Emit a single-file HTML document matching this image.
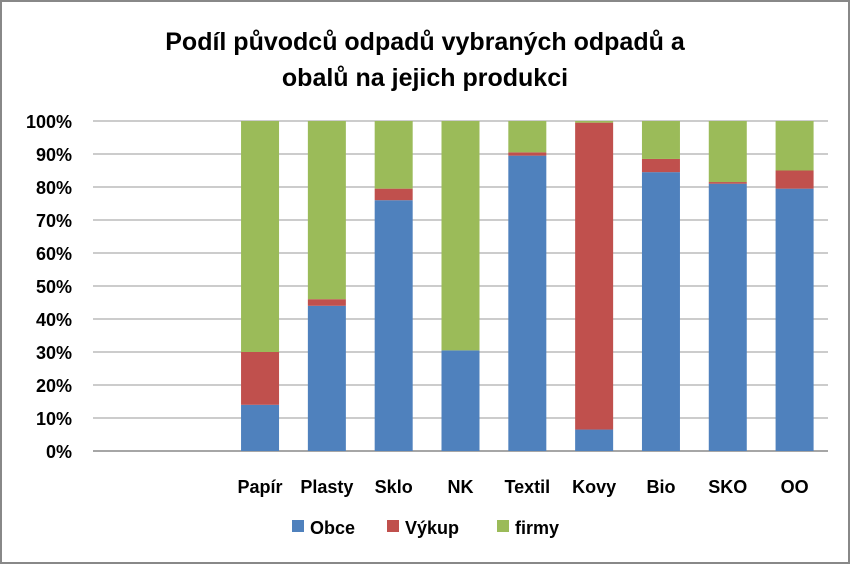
<!DOCTYPE html>
<html><head><meta charset="utf-8"><style>
body{margin:0;background:#fff;}
svg{display:block;font-family:"Liberation Sans",sans-serif;}
</style></head><body>
<svg width="851" height="565">
<rect x="1" y="1" width="848" height="562" fill="#fff" stroke="#888" stroke-width="2"/>
<text x="425" y="50" text-anchor="middle" font-size="25" font-weight="bold" fill="#000">Podíl původců odpadů vybraných odpadů a</text>
<text x="425" y="86" text-anchor="middle" font-size="25" font-weight="bold" fill="#000">obalů na jejich produkci</text>
<g id="grid"></g><g id="bars"></g><g id="ylab"></g><g id="xlab"></g>
<g>
<rect x="292" y="520" width="12" height="12" fill="#4F81BD"/>
<text x="310" y="534" font-size="18" font-weight="bold">Obce</text>
<rect x="387" y="520" width="12" height="12" fill="#C0504D"/>
<text x="405" y="534" font-size="18" font-weight="bold">Výkup</text>
<rect x="497" y="520" width="12" height="12" fill="#9BBB59"/>
<text x="515" y="534" font-size="18" font-weight="bold">firmy</text>
</g>
</svg>
<script>
const categories=["","","Papír","Plasty","Sklo","NK","Textil","Kovy","Bio","SKO","OO"];
const obce=[null,null,14,44,76,30.5,89.5,6.5,84.5,81,79.5];
const vykup=[null,null,16,2,3.5,0,1,93,4,0.5,5.5];
const firmy=[null,null,70,54,20.5,69.5,9.5,0.5,11.5,18.5,15];
const yTicks=[0,10,20,30,40,50,60,70,80,90,100];
const NS="http://www.w3.org/2000/svg";
const x0=93,x1=828,y0=451,y1=121;
const slot=(x1-x0)/categories.length;
const y=v=>y0-(v/100)*(y0-y1);
const xc=i=>x0+(i+0.5)*slot;
function mk(tag,attrs,parent){const e=document.createElementNS(NS,tag);for(const k in attrs)e.setAttribute(k,attrs[k]);parent.appendChild(e);return e;}
const grid=document.getElementById('grid'),ylab=document.getElementById('ylab'),bars=document.getElementById('bars'),xlab=document.getElementById('xlab');
yTicks.forEach(t=>{
  const l=mk('line',{x1:x0,x2:x1,y1:y(t),y2:y(t),stroke:t===0?'#888':'#999','stroke-width':t===0?1.5:1},grid);
  
  
  const tx=mk('text',{x:72,y:y(t)+7,'text-anchor':'end','font-size':18,'font-weight':'bold'},ylab);
  tx.textContent=t+'%';
  
  
});
const series=[[obce,'#4F81BD','obce'],[vykup,'#C0504D','vykup'],[firmy,'#9BBB59','firmy']];
const bw=38;
categories.forEach((c,i)=>{
  if(obce[i]===null)return;
  let acc=0;
  series.forEach(([arr,col,nm])=>{
    const v=arr[i];
    const r=mk('rect',{x:xc(i)-bw/2,y:y(acc+v),width:bw,height:y(acc)-y(acc+v),fill:col},bars);
    
    
    acc+=v;
  });
  const t=mk('text',{x:xc(i),y:493,'text-anchor':'middle','font-size':18,'font-weight':'bold'},xlab);
  t.textContent=c;
  
  
});
</script>
</body></html>
